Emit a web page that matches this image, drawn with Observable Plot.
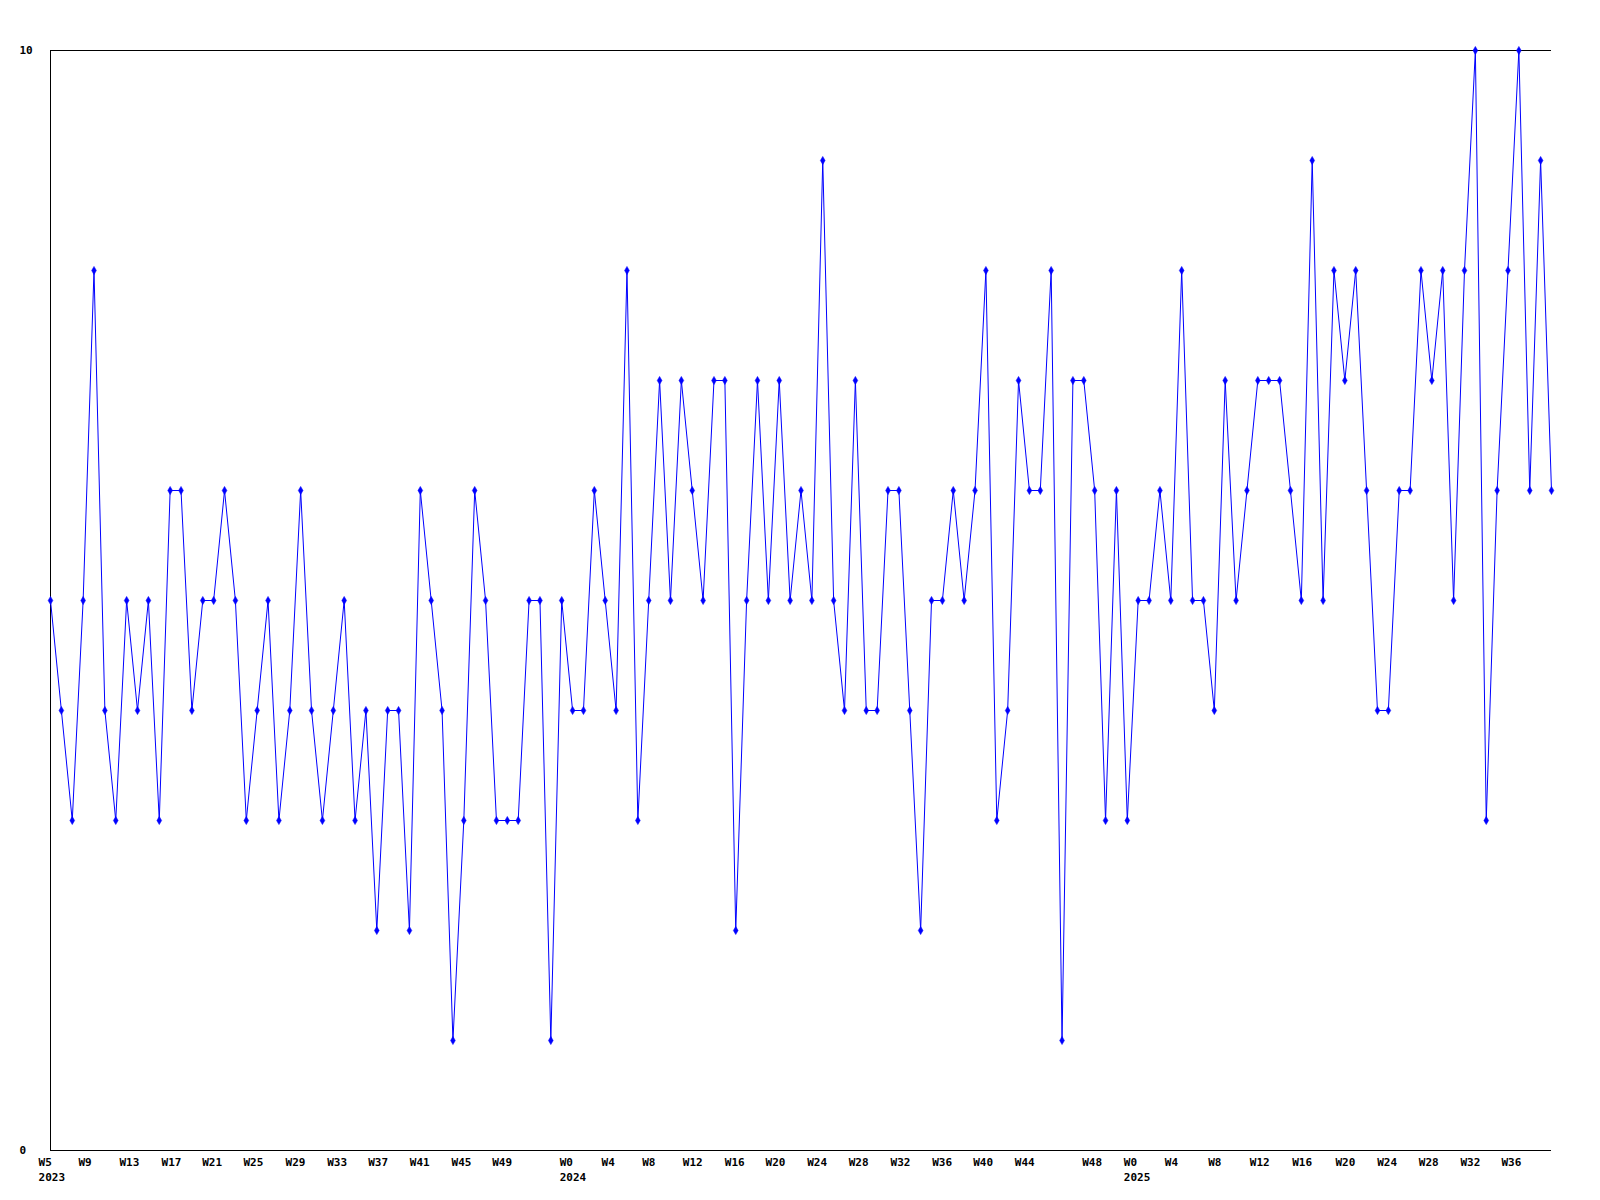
<!DOCTYPE html>
<html>
<head>
<meta charset="utf-8">
<script src="https://cdn.jsdelivr.net/npm/d3@7"></script>
<script src="https://cdn.jsdelivr.net/npm/@observablehq/plot@0.6"></script>
<style>
  html, body { margin: 0; padding: 0; background: #ffffff; }
</style>
</head>
<body>
<div id="chart"></div>
<script>
// Weekly series values (one per week, in order)
const values = [
  5,4,3,5,8,4,3,5,4,5,
  3,6,6,4,5,5,6,5,3,4,
  5,3,4,6,4,3,4,5,3,4,
  2,4,4,2,6,5,4,1,3,6,
  5,3,3,3,5,5,1,5,4,4,
  6,5,4,8,3,5,7,5,7,6,
  5,7,7,2,5,7,5,7,5,6,
  5,9,5,4,7,4,4,6,6,4,
  2,5,5,6,5,6,8,3,4,7,
  6,6,8,1,7,7,6,3,6,3,
  5,5,6,5,8,5,5,4,7,5,
  6,7,7,7,6,5,9,5,8,7,
  8,6,4,4,6,6,8,7,8,5,
  8,10,3,6,8,10,6,9,6
];

// X tick labels and their positions (in week-index units)
const tickLabels = [
  "W5\n2023","W9","W13","W17","W21","W25","W29","W33","W37","W41","W45","W49",
  "W0\n2024","W4","W8","W12","W16","W20","W24","W28","W32","W36","W40","W44","W48",
  "W0\n2025","W4","W8","W12","W16","W20","W24","W28","W32","W36"
];
const tickPositions = [
  -1.10, 2.57, 6.34, 10.21, 13.95, 17.74, 21.61, 25.44, 29.21, 33.03, 36.87, 40.61,
  46.82, 50.66, 54.40, 58.13, 61.99, 65.74, 69.57, 73.39, 77.23, 81.06, 84.83, 88.66, 94.85,
  98.68, 102.45, 106.44, 110.26, 114.16, 118.14, 121.97, 125.80, 129.63, 133.40
];
const yTicks = [0, 10];

const data = values.map((v, i) => ({week: i, value: v}));
const labelAt = new Map(tickPositions.map((p, k) => [p, tickLabels[k]]));
const font = {fontFamily: "'DejaVu Sans Mono', monospace", fontSize: 11, fontWeight: "bold"};

const chart = Plot.plot({
  width: 1600,
  height: 1200,
  marginLeft: 50,
  marginRight: 49,
  marginTop: 50,
  marginBottom: 50,
  style: {background: "#ffffff", color: "#000000", fontFamily: "'DejaVu Sans Mono', monospace", fontSize: "11px", fontWeight: "bold"},
  x: {domain: [0, values.length - 1], label: null},
  y: {domain: [0, 10], label: null},
  marks: [
    Plot.ruleY(yTicks, {stroke: "#000000", strokeWidth: 1}),
    Plot.ruleX([0], {stroke: "#000000", strokeWidth: 1}),
    Plot.axisX(tickPositions, {
      anchor: "bottom", label: null, tickSize: 0, tickPadding: 5,
      textAnchor: "start", lineHeight: 1.36, fill: "#000000",
      tickFormat: (d) => labelAt.get(d), ...font
    }),
    Plot.axisY(yTicks, {
      anchor: "left", label: null, tickSize: 0, tickPadding: 0,
      textAnchor: "start", dx: -31, fill: "#000000",
      tickFormat: (d) => String(d), ...font
    }),
    Plot.line(data, {x: "week", y: "value", stroke: "#0000ff", strokeWidth: 1}),
    Plot.dot(data, {x: "week", y: "value", symbol: "diamond", r: 2.5, fill: "#0000ff", stroke: "#0000ff", strokeWidth: 0.5})
  ]
});
document.getElementById("chart").appendChild(chart);
</script>
</body>
</html>
